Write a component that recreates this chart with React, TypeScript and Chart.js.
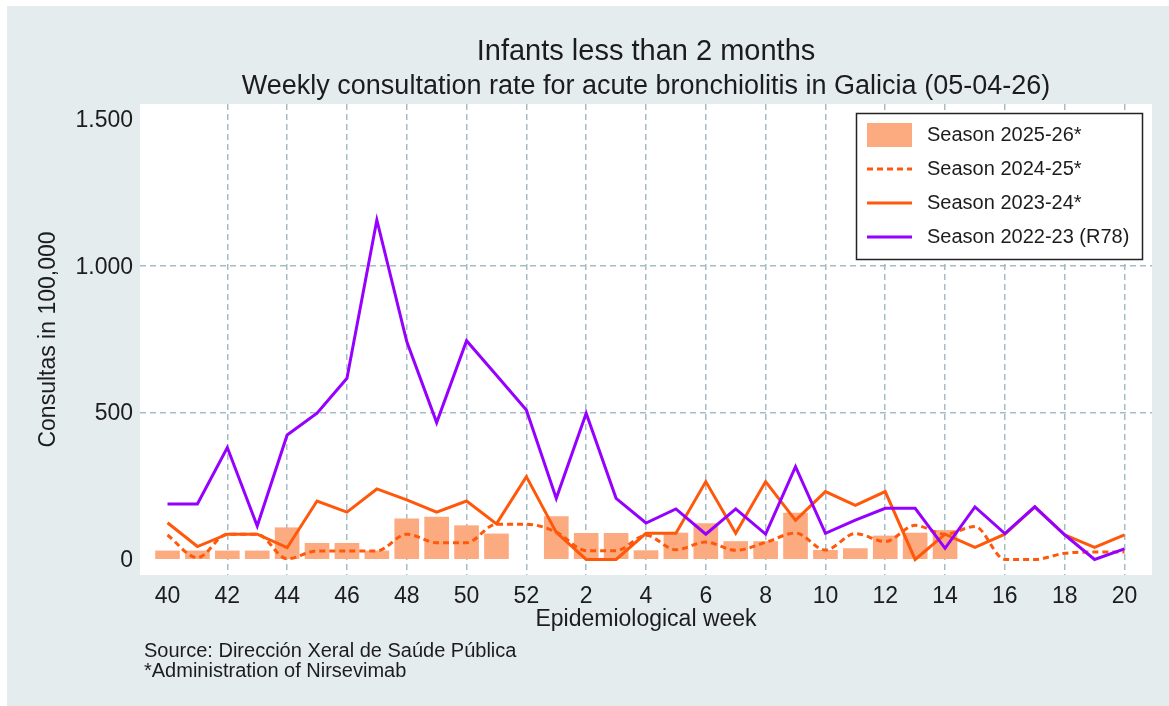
import React, { useEffect, useRef } from "react";
import { Chart, registerables } from "chart.js";

Chart.register(...registerables);

// ---------------- Data ----------------
const weeks = [40, 41, 42, 43, 44, 45, 46, 47, 48, 49, 50, 51, 52, 1, 2, 3, 4, 5, 6, 7, 8, 9, 10, 11, 12, 13, 14, 15, 16, 17, 18, 19, 20];

const season2526 = [29, 29, 29, 29, 108, 55, 55, 29, 138, 144, 115, 87, null, 146, 89, 89, 30, 90, 122, 61, 61, 158, 31, 37, 80, 90, 99, null, null, null, null, null, null];
const season2425 = [83, 6, 86, 86, 2, 29, 29, 29, 86, 57, 57, 120, 120, 93, 30, 30, 82, 33, 59, 31, 58, 90, 32, 88, 61, 116, 86, 112, 0, 0, 21, 25, 25];
const season2324 = [125, 44, 86, 86, 40, 199, 161, 240, 203, 161, 199, 121, 282, 92, 0, 0, 89, 89, 265, 89, 265, 133, 231, 184, 231, 0, 86, 41, 86, 179, 84, 41, 84];
const season2223 = [189, 189, 381, 114, 424, 498, 617, 1156, 742, 466, 745, 627, 509, 208, 498, 208, 124, 172, 86, 172, 86, 316, 89, 134, 174, 174, 38, 179, 88, 179, 84, 0, 36];

const yTickValues = [0, 500, 1000, 1500];
const xTickIndexes = weeks.map((_, i) => i).filter((i) => i % 2 === 0);

const seriesLabels = ["Season 2025-26*", "Season 2024-25*", "Season 2023-24*", "Season 2022-23 (R78)"];
const titleText = "Infants less than 2 months";
const subtitleText = "Weekly consultation rate for acute bronchiolitis in Galicia (05-04-26)";
const yTitle = "Consultas in 100,000";
const xTitle = "Epidemiological week";
const footnotes = ["Source: Dirección Xeral de Saúde Pública", "*Administration of Nirsevimab"];

// ---------------- Styles ----------------
const FONT = '"Liberation Sans", Arial, sans-serif';
const BG = "rgb(229,236,238)";
const GRID = "rgb(166,188,197)";
const TXT = "#1c1c1c";
const BAR = "rgb(252,170,128)";
const ORANGE = "rgb(255,88,10)";
const PURPLE = "rgb(150,0,255)";

const toPoints = (arr: (number | null)[]) => arr.map((v, i) => ({ x: i, y: v }));

const fmtThousands = (v: number) => {
  const s = Math.round(v).toString();
  return s.replace(/\B(?=(\d{3})+(?!\d))/g, ".");
};

const decorPlugin = {
  id: "decor",
  beforeDraw(chart: any) {
    const { ctx, chartArea: a, width, height } = chart;
    ctx.save();
    ctx.fillStyle = "#ffffff";
    ctx.fillRect(0, 0, width, height);
    ctx.fillStyle = BG;
    ctx.fillRect(7, 6, width - 7, height - 6);
    ctx.fillStyle = "#ffffff";
    ctx.fillRect(a.left, a.top, a.right - a.left, a.bottom - a.top);
    ctx.restore();
  },
  afterDraw(chart: any) {
    const { ctx, chartArea: a } = chart;
    const cx = (a.left + a.right) / 2;
    ctx.save();
    ctx.fillStyle = TXT;
    ctx.textAlign = "center";
    ctx.textBaseline = "alphabetic";
    ctx.font = `29px ${FONT}`;
    ctx.fillText(titleText, cx, 60);
    ctx.font = `27px ${FONT}`;
    ctx.fillText(subtitleText, cx, 94);

    ctx.textAlign = "left";
    ctx.font = `20px ${FONT}`;
    ctx.fillText(footnotes[0], 144, 657);
    ctx.fillText(footnotes[1], 144, 677);

    // Legend
    const lx = 856.5, ly = 113.5, lw = 286, lh = 146;
    ctx.fillStyle = "#ffffff";
    ctx.fillRect(lx, ly, lw, lh);
    ctx.strokeStyle = "#222222";
    ctx.lineWidth = 1.5;
    ctx.strokeRect(lx, ly, lw, lh);

    const rows = [135, 169, 203, 237];
    const sx0 = 867, sx1 = 912;
    ctx.fillStyle = BAR;
    ctx.fillRect(sx0, rows[0] - 12, sx1 - sx0, 24);
    ctx.lineWidth = 3;
    ctx.strokeStyle = ORANGE;
    ctx.setLineDash([6, 4]);
    ctx.beginPath();
    ctx.moveTo(sx0, rows[1]);
    ctx.lineTo(sx1, rows[1]);
    ctx.stroke();
    ctx.setLineDash([]);
    ctx.beginPath();
    ctx.moveTo(sx0, rows[2]);
    ctx.lineTo(sx1, rows[2]);
    ctx.stroke();
    ctx.strokeStyle = PURPLE;
    ctx.beginPath();
    ctx.moveTo(sx0, rows[3]);
    ctx.lineTo(sx1, rows[3]);
    ctx.stroke();

    ctx.fillStyle = TXT;
    ctx.font = `20px ${FONT}`;
    ctx.textBaseline = "middle";
    seriesLabels.forEach((t, i) => ctx.fillText(t, 927, rows[i]));
    ctx.restore();
  },
};

export default function App() {
  const ref = useRef<HTMLCanvasElement | null>(null);

  useEffect(() => {
    if (!ref.current) return;
    const chart = new Chart(ref.current, {
      type: "bar",
      data: {
        datasets: [
          {
            type: "bar",
            label: seriesLabels[0],
            data: toPoints(season2526) as any,
            backgroundColor: BAR,
            borderWidth: 0,
            barThickness: 24,
            grouped: false,
            order: 4,
          } as any,
          {
            type: "line",
            label: seriesLabels[1],
            data: toPoints(season2425) as any,
            borderColor: ORANGE,
            borderWidth: 3,
            borderDash: [6, 4],
            pointRadius: 0,
            cubicInterpolationMode: "monotone",
            fill: false,
            order: 3,
          } as any,
          {
            type: "line",
            label: seriesLabels[2],
            data: toPoints(season2324) as any,
            borderColor: ORANGE,
            borderWidth: 3,
            pointRadius: 0,
            tension: 0,
            fill: false,
            order: 2,
          } as any,
          {
            type: "line",
            label: seriesLabels[3],
            data: toPoints(season2223) as any,
            borderColor: PURPLE,
            borderWidth: 3,
            pointRadius: 0,
            tension: 0,
            fill: false,
            order: 1,
          } as any,
        ],
      },
      options: {
        responsive: false,
        animation: false,
        maintainAspectRatio: false,
        layout: { padding: { top: 104, right: 17, left: 0, bottom: 0 } },
        plugins: {
          legend: { display: false },
          title: { display: false },
          tooltip: { enabled: false },
        },
        scales: {
          x: {
            type: "linear",
            min: -0.92,
            max: 32.92,
            offset: false,
            afterBuildTicks: (s: any) => {
              s.ticks = xTickIndexes.map((v) => ({ value: v }));
            },
            afterFit: (s: any) => {
              s.height = 131;
            },
            grid: {
              offset: false,
              drawTicks: false,
              lineWidth: 1.5,
              color: (c: any) => (c.tick && c.tick.value > 0 ? GRID : "rgba(0,0,0,0)"),
            },
            border: { display: false, dash: [6, 4] },
            ticks: {
              autoSkip: false,
              maxRotation: 0,
              padding: 8,
              color: TXT,
              font: { family: FONT, size: 23 },
              callback: (v: any) => String(weeks[Math.round(Number(v))] ?? ""),
            },
            title: {
              display: true,
              text: xTitle,
              color: TXT,
              font: { family: FONT, size: 23 },
              padding: { top: 0, bottom: 73 },
            },
          } as any,
          y: {
            type: "linear",
            min: -53,
            max: 1551,
            afterBuildTicks: (s: any) => {
              s.ticks = yTickValues.map((v) => ({ value: v }));
            },
            afterFit: (s: any) => {
              s.width = 140;
            },
            grid: {
              drawTicks: false,
              lineWidth: 1.5,
              color: (c: any) =>
                c.tick && (c.tick.value === 500 || c.tick.value === 1000) ? GRID : "rgba(0,0,0,0)",
            },
            border: { display: false, dash: [6, 4] },
            ticks: {
              padding: 7,
              labelOffset: 1.5,
              color: TXT,
              font: { family: FONT, size: 23 },
              callback: (v: any) => fmtThousands(Number(v)),
            },
            title: {
              display: true,
              text: yTitle,
              color: TXT,
              font: { family: FONT, size: 23 },
              padding: { top: 35, bottom: 0 },
            },
          } as any,
        },
      } as any,
      plugins: [decorPlugin],
    });
    return () => chart.destroy();
  }, []);

  return (
    <div style={{ position: "absolute", left: 0, top: 0, width: 1169, height: 706 }}>
      <canvas ref={ref} width={1169} height={706} style={{ width: 1169, height: 706, display: "block" }} />
    </div>
  );
}
